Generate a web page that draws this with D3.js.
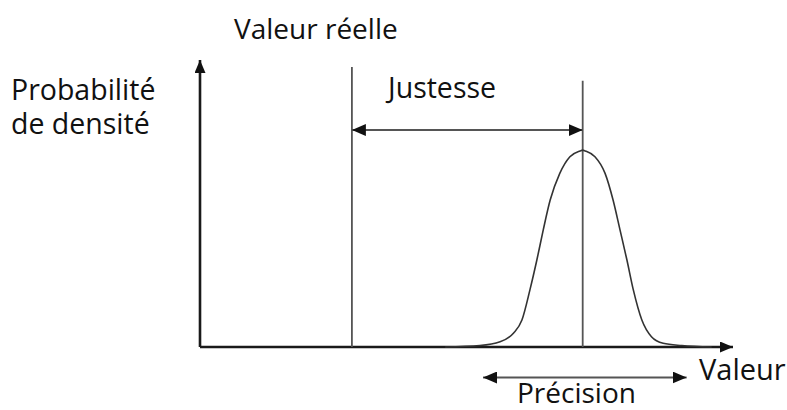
<!DOCTYPE html>
<html>
<head>
<meta charset="utf-8">
<script src="https://cdn.jsdelivr.net/npm/d3@7"></script>
<style>
  html, body { margin: 0; padding: 0; background: #fff; }
  svg text { font-family: "Open Sans", "Noto Sans", sans-serif; font-weight: 500; fill: #111; }
</style>
</head>
<body>
<svg id="chart" width="787" height="410"></svg>
<script>
// valeurs (axe x : 0-100, axe y : densité 0-1)
const trueValue = 28.5;        // valeur réelle
const meanValue = 71.8;        // moyenne de la distribution
const precisionRange = [53.1, 91.3];
const justesseLevel = 0.756;
const trueLineTop = 0.976;
const meanLineTop = 0.928;

const curveX = [46, 52.5, 56.3, 58.8, 60.4, 61.9, 63.2, 64.4, 65.7, 67.5, 69.4, 71.3, 71.8,
                72.3, 74.1, 76.0, 77.5, 78.8, 80.1, 81.3, 82.9, 84.7, 86.9, 90.4, 96];
const curveY = [0, 0.005, 0.018, 0.048, 0.094, 0.199, 0.303, 0.408, 0.512, 0.605, 0.663, 0.683, 0.686,
                0.683, 0.663, 0.605, 0.512, 0.408, 0.303, 0.199, 0.094, 0.036, 0.013, 0.005, 0];

// chaque libellé peut avoir plusieurs lignes
const labels = [
  { lines: ['Valeur réelle'], x: 233, y: 39, size: 28 },
  { lines: ['Probabilité', 'de densité'], x: 10, y: 100, size: 28.5 },
  { lines: ['Justesse'], x: 387, y: 98, size: 28.5 },
  { lines: ['Valeur'], x: 698, y: 380, size: 29 },
  { lines: ['Précision'], x: 516, y: 403, size: 28 },
];

const svg = d3.select('#chart');

const x = d3.scaleLinear([0, 100], [200, 733]);
const y = d3.scaleLinear([0, 1], [347, 60]);

// flèches
const defs = svg.append('defs');
function marker(id, len, wid, color) {
  defs.append('marker')
    .attr('id', id)
    .attr('viewBox', `0 0 ${len} ${wid}`)
    .attr('refX', len).attr('refY', wid / 2)
    .attr('markerUnits', 'userSpaceOnUse')
    .attr('markerWidth', len).attr('markerHeight', wid)
    .attr('orient', 'auto-start-reverse')
    .append('path')
    .attr('d', `M0,0L${len},${wid / 2}L0,${wid}Z`)
    .attr('fill', color);
}
marker('axisHead', 13, 11, '#111');
marker('dimHead', 14, 12, '#111');

// axes
const axes = svg.append('g').attr('class', 'axes')
  .attr('stroke', '#1a1a1a').attr('stroke-width', 2.6).attr('fill', 'none');
axes.append('line')
  .attr('x1', x(0)).attr('y1', y(0))
  .attr('x2', x(0)).attr('y2', y.range()[1])
  .attr('marker-end', 'url(#axisHead)');
axes.append('line')
  .attr('x1', x(0)).attr('y1', y(0))
  .attr('x2', x.range()[1]).attr('y2', y(0))
  .attr('marker-end', 'url(#axisHead)');

// lignes verticales
const vlines = [
  { v: trueValue, top: trueLineTop },
  { v: meanValue, top: meanLineTop },
];
svg.append('g').selectAll('line')
  .data(vlines)
  .join('line')
  .attr('x1', d => x(d.v)).attr('x2', d => x(d.v))
  .attr('y1', d => y(d.top)).attr('y2', y(0))
  .attr('stroke', '#555').attr('stroke-width', 1.8);

// courbe de densité
const line = d3.line()
  .x(d => x(d[0]))
  .y(d => y(d[1]))
  .curve(d3.curveMonotoneX);
svg.append('path')
  .datum(d3.zip(curveX, curveY))
  .attr('d', line)
  .attr('fill', 'none')
  .attr('stroke', '#333')
  .attr('stroke-width', 1.6);

// cotes justesse / précision
const dims = [
  { from: trueValue, to: meanValue, py: y(justesseLevel) },
  { from: precisionRange[0], to: precisionRange[1], py: 377.5 },
];
svg.append('g').selectAll('line')
  .data(dims)
  .join('line')
  .attr('x1', d => x(d.from)).attr('x2', d => x(d.to))
  .attr('y1', d => d.py).attr('y2', d => d.py)
  .attr('stroke', '#555').attr('stroke-width', 2)
  .attr('marker-start', 'url(#dimHead)')
  .attr('marker-end', 'url(#dimHead)');

// textes
svg.append('g').selectAll('text')
  .data(labels)
  .join('text')
  .attr('x', d => d.x).attr('y', d => d.y)
  .attr('font-size', d => d.size)
  .each(function(d) {
    d3.select(this).selectAll('tspan')
      .data(d.lines)
      .join('tspan')
      .attr('x', d.x + 1)
      .attr('dy', (l, i) => i === 0 ? 0 : 34)
      .text(l => l);
  });
</script>
</body>
</html>
